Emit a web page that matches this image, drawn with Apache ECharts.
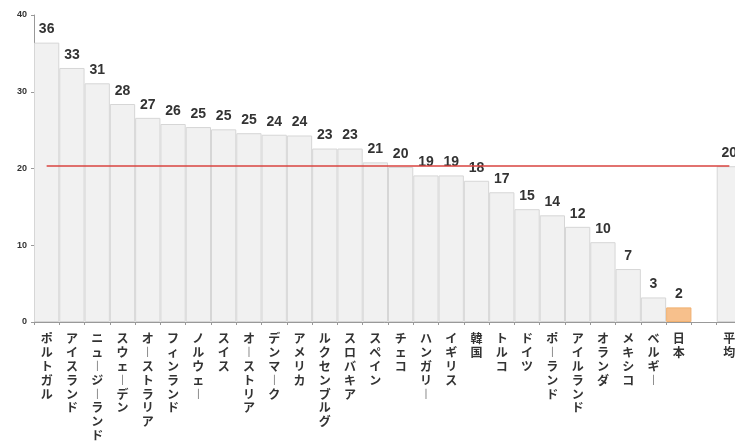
<!DOCTYPE html>
<html>
<head>
<meta charset="utf-8">
<script src="https://cdn.jsdelivr.net/npm/echarts@6/dist/echarts.min.js"></script>
<style>
  html, body { margin: 0; padding: 0; background: #fff; }
  #chart { width: 735px; height: 445px; }
</style>
</head>
<body>
<div id="chart"></div>
<script>
// countries (blank slot before the average bar)
const countries = [
  'ポルトガル', 'アイスランド', 'ニュージーランド', 'スウェーデン', 'オーストラリア',
  'フィンランド', 'ノルウェー', 'スイス', 'オーストリア', 'デンマーク', 'アメリカ',
  'ルクセンブルグ', 'スロバキア', 'スペイン', 'チェコ', 'ハンガリー', 'イギリス',
  '韓国', 'トルコ', 'ドイツ', 'ポーランド', 'アイルランド', 'オランダ', 'メキシコ',
  'ベルギー', '日本', '', '平均'
]
const values = [
  36.4, 33.1, 31.1, 28.4, 26.6, 25.8, 25.4, 25.1, 24.6, 24.4, 24.3,
  22.6, 22.6, 20.8, 20.2, 19.1, 19.1, 18.4, 16.9, 14.7, 13.9, 12.4,
  10.4, 6.9, 3.2, 1.9, null, 20.3
]
const average = 20.3
const highlight = '日本'
const yTicks = [0, 10, 20, 30, 40]

const chart = echarts.init(document.getElementById('chart'))

const barData = values.map((v, i) => ({
  value: v,
  itemStyle: countries[i] === highlight
    ? { color: '#f7c08c', borderColor: '#f0b070' }
    : undefined
}))

const options = {
  animation: false,
  backgroundColor: '#fff',
  grid: {
    left: 34,
    top: 15,
    bottom: 123,
    width: 708,
    outerBoundsMode: 'none'
  },
  xAxis: {
    type: 'category',
    data: countries,
    axisLine: { lineStyle: { color: '#999', width: 1 } },
    axisTick: { show: true, length: 3, lineStyle: { color: '#999' } },
    axisLabel: {
      interval: 0,
      margin: 10,
      verticalAlign: 'top',
      fontFamily: 'Noto Sans CJK JP',
      fontSize: 12,
      fontWeight: 'bold',
      color: '#333',
      lineHeight: 13.8,
      // stack characters vertically, long vowel mark drawn as vertical bar
      formatter: (s) => s.replace(/ー/g, '︱').split('').join('\n')
    }
  },
  yAxis: {
    type: 'value',
    min: yTicks[0],
    max: yTicks[yTicks.length - 1],
    interval: 10,
    splitLine: { show: false },
    axisLine: { show: true, lineStyle: { color: '#999', width: 1 } },
    axisTick: { show: true, length: 3, lineStyle: { color: '#999' } },
    axisLabel: {
      fontFamily: 'Liberation Sans',
      fontSize: 9,
      fontWeight: 'bold',
      color: '#333',
      margin: 7
    }
  },
  series: [
    {
      type: 'bar',
      data: barData,
      barCategoryGap: 0,
      itemStyle: {
        color: '#f1f1f1',
        borderColor: '#d6d6d6',
        borderWidth: 1
      },
      label: {
        show: true,
        position: 'top',
        distance: 6,
        fontFamily: 'Liberation Sans',
        fontSize: 14,
        fontWeight: 'bold',
        color: '#333',
        formatter: (p) => p.value == null ? '' : Math.round(p.value)
      },
      markLine: {
        silent: true,
        symbol: 'none',
        label: { show: false },
        lineStyle: { type: 'solid', color: '#d9433f', width: 1.5 },
        data: [[
          { coord: [0, average] },
          { coord: [countries.length - 1, average] }
        ]]
      }
    }
  ]
}
chart.setOption(options)
</script>
</body>
</html>
